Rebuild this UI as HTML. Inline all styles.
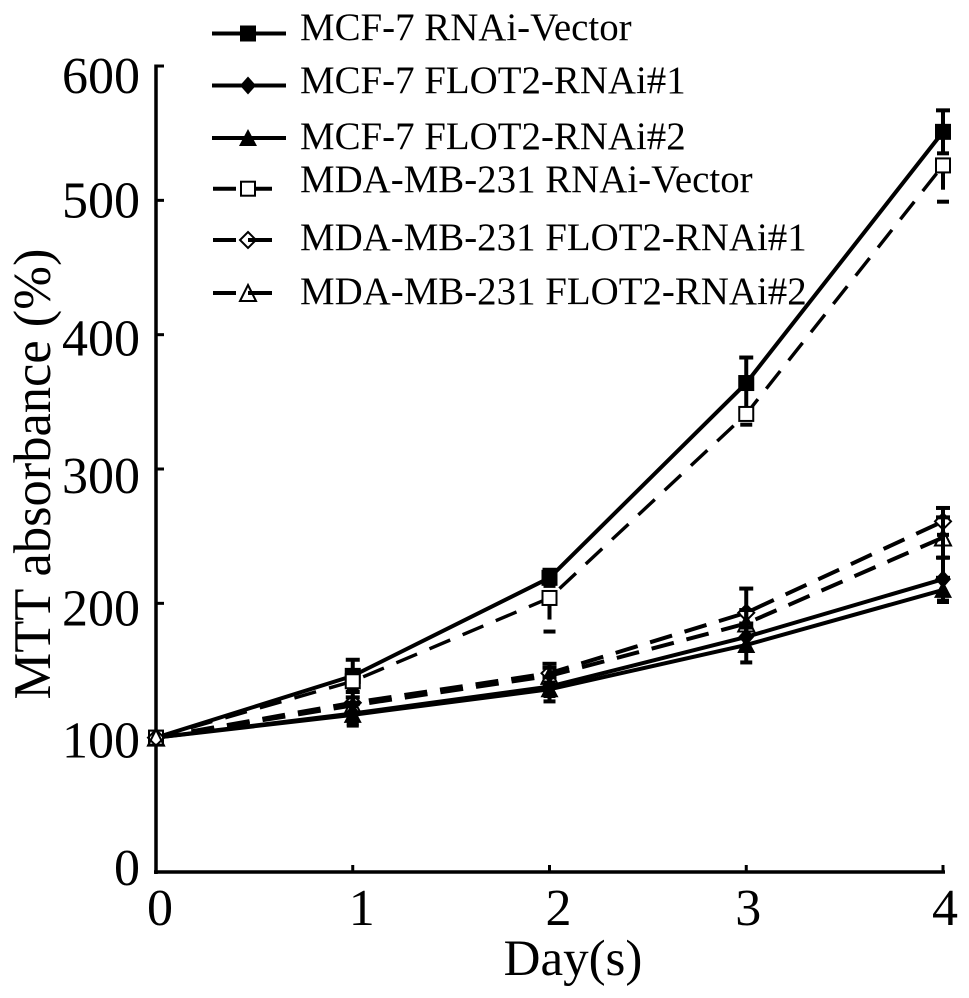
<!DOCTYPE html>
<html>
<head>
<meta charset="utf-8">
<style>
html,body{margin:0;padding:0;background:#fff;}
svg{display:block;}
text{font-family:"Liberation Serif",serif;fill:#000;}
</style>
</head>
<body>
<svg id="chart" width="969" height="998" viewBox="0 0 969 998" xmlns="http://www.w3.org/2000/svg">
<rect width="969" height="998" fill="#fff"/>
</svg>
<script>
const days = [0, 1, 2, 3, 4];
const yTickValues = [0, 100, 200, 300, 400, 500, 600];
const yTickLabels = ["0", "100", "200", "300", "400", "500", "600"];
const xTickLabels = ["0", "1", "2", "3", "4"];
const yLabelNudge = [13, 20, 22, 24, 21, 17, 27];
const xLabelNudge = [4, 9, 9, 2, 2];

const mcfVector = [100, 146, 219, 364, 551];
const mcfFlot1 = [100, 118, 138, 175, 218];
const mcfFlot2 = [100, 117, 136, 169, 210];
const mdaVector = [100, 142, 204, 341, 526];
const mdaFlot1 = [100, 126, 148, 193, 261];
const mdaFlot2 = [100, 124, 146, 185, 249];

const mcfVectorErr = [0, 12, 6, 19, 16];
const mcfFlot1Err = [0, 8, 7, 10, 16];
const mcfFlot2Err = [0, 8, 9, 13, 9];
const mdaVectorErr = [0, 6, 25, 8, 27];
const mdaFlot1Err = [0, 8, 7, 18, 10];
const mdaFlot2Err = [0, 6, 6, 10, 15];

const seriesNames = ["MCF-7 RNAi-Vector", "MCF-7 FLOT2-RNAi#1", "MCF-7 FLOT2-RNAi#2", "MDA-MB-231 RNAi-Vector", "MDA-MB-231 FLOT2-RNAi#1", "MDA-MB-231 FLOT2-RNAi#2"];

const svg = document.getElementById('chart');
const NS = 'http://www.w3.org/2000/svg';
const xScale = d => 156 + d * 196.75;
const yScale = v => 872 - v * 1.3433;

function make(tag, attrs, name) {
  const el = document.createElementNS(NS, tag);
  for (const k in attrs) el.setAttribute(k, attrs[k]);
  
  
  svg.appendChild(el);
  return el;
}
function label(str, x, y, size, anchor, name) {
  const t = make('text', {x: x, y: y, 'font-size': size, 'text-anchor': anchor}, name);
  t.textContent = str;
  return t;
}
function marker(kind, cx, cy, name) {
  if (kind === 'square') {
    make('rect', {x: cx - 7.5, y: cy - 7.5, width: 15, height: 15, fill: '#000', stroke: '#000', 'stroke-width': 1}, name);
  } else if (kind === 'diamond') {
    make('polygon', {points: [[cx, cy - 9], [cx + 8, cy], [cx, cy + 9], [cx - 8, cy]].join(' '), fill: '#000'}, name);
  } else if (kind === 'triangle') {
    make('polygon', {points: [[cx, cy - 9], [cx + 9, cy + 8], [cx - 9, cy + 8]].join(' '), fill: '#000'}, name);
  } else if (kind === 'open-square') {
    make('rect', {x: cx - 7, y: cy - 7, width: 14, height: 14, fill: '#fff', stroke: '#000', 'stroke-width': 2}, name);
  } else if (kind === 'open-diamond') {
    make('polygon', {points: [[cx, cy - 8], [cx + 8, cy], [cx, cy + 8], [cx - 8, cy]].join(' '), fill: 'none', stroke: '#000', 'stroke-width': 2}, name);
  } else {
    make('polygon', {points: [[cx, cy - 8], [cx + 8, cy + 8], [cx - 8, cy + 8]].join(' '), fill: 'none', stroke: '#000', 'stroke-width': 2}, name);
  }
}

const series = [
  {key: 'mcf-vector', values: mcfVector, err: mcfVectorErr, kind: 'square', dash: '', w: 4, up: true, down: true},
  {key: 'mcf-flot1', values: mcfFlot1, err: mcfFlot1Err, kind: 'diamond', dash: '', w: 4, up: true, down: true},
  {key: 'mcf-flot2', values: mcfFlot2, err: mcfFlot2Err, kind: 'triangle', dash: '', w: 4, up: true, down: true},
  {key: 'mda-vector', values: mdaVector, err: mdaVectorErr, kind: 'open-square', dash: '22.5 13.5', w: 3.4, up: false, down: true},
  {key: 'mda-flot1', values: mdaFlot1, err: mdaFlot1Err, kind: 'open-diamond', dash: '23 13', w: 4, up: true, down: true},
  {key: 'mda-flot2', values: mdaFlot2, err: mdaFlot2Err, kind: 'open-triangle', dash: '23 13', w: 4, up: true, down: true}
];

/* axes */
make('line', {x1: 156, y1: 64.5, x2: 156, y2: 874, stroke: '#000', 'stroke-width': 3.5}, 'y-axis-line');
make('line', {x1: 154, y1: 872, x2: 945, y2: 872, stroke: '#000', 'stroke-width': 3.5}, 'x-axis-line');
yTickValues.forEach((v, i) => {
  if (v > 0) make('line', {x1: 156, y1: yScale(v), x2: 164, y2: yScale(v), stroke: '#000', 'stroke-width': 3}, 'y-tick-' + v);
  label(yTickLabels[i], 140, yScale(v) + yLabelNudge[i], 52, 'end', 'y-tick-label-' + v);
});
days.forEach((d, i) => {
  if (d > 0) make('line', {x1: xScale(d), y1: 872, x2: xScale(d), y2: 865, stroke: '#000', 'stroke-width': 3}, 'x-tick-' + d);
  label(xTickLabels[i], xScale(d) + xLabelNudge[i], 925, 52, 'middle', 'x-tick-label-' + d);
});
label('Day(s)', 573, 975, 51, 'middle', 'x-axis-title');
label('MTT absorbance (%)', 0, 0, 52.5, 'middle', 'y-axis-title').setAttribute('transform', 'translate(50,474) rotate(-90)');

/* error bars */
series.forEach(s => {
  days.forEach((d, i) => {
    if (!s.err[i]) return;
    const x = xScale(d);
    const yc = yScale(s.values[i]);
    const yu = yScale(s.values[i] + s.err[i]);
    const yd = yScale(s.values[i] - s.err[i]);
    if (s.up) {
      make('line', {x1: x, y1: yc, x2: x, y2: yu, stroke: '#000', 'stroke-width': 4}, s.key + '-error-up-' + d);
      make('line', {x1: x - 7, y1: yu, x2: x + 7, y2: yu, stroke: '#000', 'stroke-width': 4}, s.key + '-cap-up-' + d);
    }
    if (s.down) {
      make('line', {x1: x, y1: yc, x2: x, y2: yd + (s.key === 'mda-vector' ? -12 : 0), stroke: '#000', 'stroke-width': 4}, s.key + '-error-down-' + d);
      make('line', {x1: x - 6, y1: yd, x2: x + 6, y2: yd, stroke: '#000', 'stroke-width': 4}, s.key + '-cap-down-' + d);
    }
  });
});

/* lines */
series.forEach(s => {
  const pts = days.map((d, i) => xScale(d) + ',' + yScale(s.values[i])).join(' ');
  const attrs = {points: pts, fill: 'none', stroke: '#000', 'stroke-width': s.w, 'stroke-linejoin': 'round'};
  if (s.dash) attrs['stroke-dasharray'] = s.dash;
  make('polyline', attrs, s.key + '-line');
});

/* markers */
series.forEach(s => {
  days.forEach((d, i) => {
    marker(s.kind, xScale(d), yScale(s.values[i]), s.key + '-point-' + d);
  });
});

/* legend */
const legendKinds = ['square', 'diamond', 'triangle', 'open-square', 'open-diamond', 'open-triangle'];
const legendLineY = [33.5, 85.5, 138, 188.7, 240, 293];
const legendTextY = [40, 93, 149, 192, 250, 304];
seriesNames.forEach((n, i) => {
  const open = i > 2;
  const attrs = {x1: open ? 213 : 212, y1: legendLineY[i], x2: open ? 272 : 286, y2: legendLineY[i], stroke: '#000', 'stroke-width': 4};
  if (open) attrs['stroke-dasharray'] = '23 12 24';
  make('line', attrs, 'legend-line-' + (i + 1));
  marker(legendKinds[i], 248, legendLineY[i], 'legend-marker-' + (i + 1));
  label(n, 300, legendTextY[i], 38.9, 'start', 'legend-label-' + (i + 1));
});
</script>
</body>
</html>
